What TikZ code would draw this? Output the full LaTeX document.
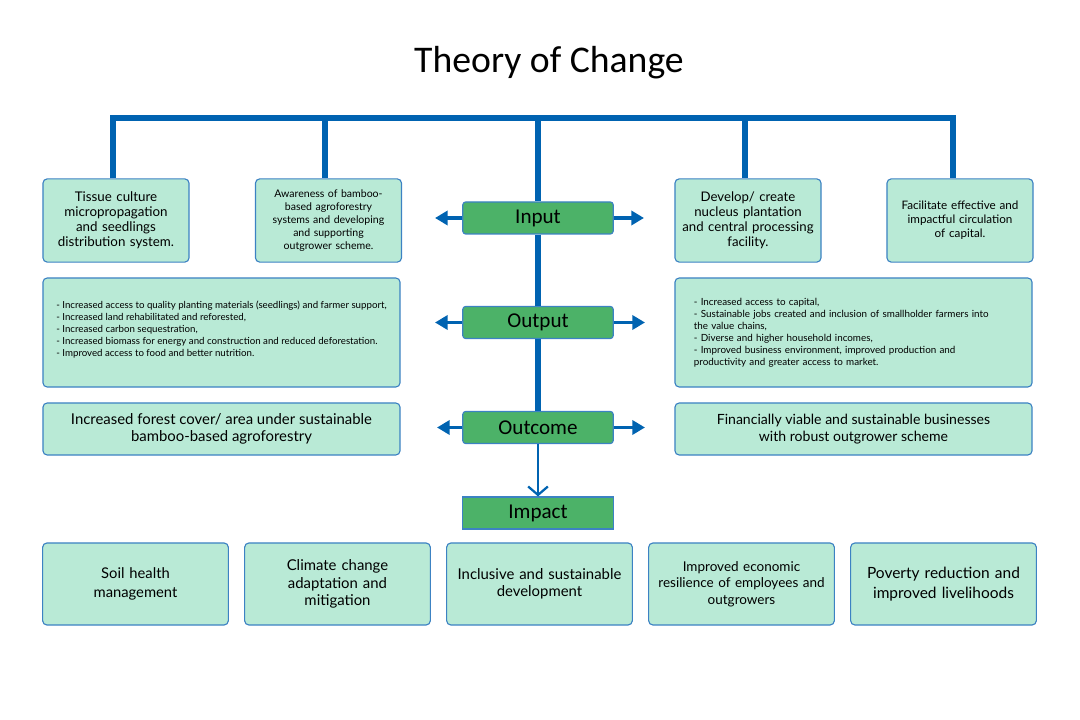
\documentclass[tikz,border=0pt]{standalone}
\usepackage{fontspec}
\setmainfont{Lato}
\newfontfamily\labfont{Carlito}
\usetikzlibrary{arrows.meta}
\definecolor{tocblue}{RGB}{0,99,177}
\definecolor{tocmint}{RGB}{185,234,214}
\definecolor{tocgreen}{RGB}{76,178,104}
\definecolor{tocline}{RGB}{60,130,195}
\tikzset{
  box/.style={draw=tocline,line width=0.8pt,fill=tocmint,rounded corners=3pt,align=center,inner sep=2pt},
  topbox/.style={box,minimum width=3.65cm,minimum height=2.08cm,text width=3.5cm},
  widebox/.style={box,minimum width=8.925cm},
  lowbox/.style={box,minimum width=4.625cm,minimum height=2.05cm,text width=4.5cm},
  stage/.style={draw=tocline,line width=0.8pt,fill=tocgreen,rounded corners=2pt,minimum width=3.76cm,minimum height=0.8cm,font=\labfont\fontsize{15}{17}\selectfont},
  trunk/.style={tocblue,line width=4.2pt},
  side/.style={tocblue,line width=2.8pt,-{Triangle[length=9pt,width=10pt]}},
}
\begin{document}
\begin{tikzpicture}[x=0.025cm,y=-0.025cm]
\useasboundingbox (0,0) rectangle (1080,720);
\node[font=\labfont\fontsize{26.8}{30}\selectfont] (title) at (549,63) {Theory of Change};

% input row
\node[topbox,font=\fontsize{9.5}{10.7}\selectfont] (inA) at (116,220.5) {Tissue culture\\micropropagation\\and seedlings\\distribution system.};
\node[topbox,font=\fontsize{7.5}{9.2}\selectfont] (inB) at (328.5,220.5) {Awareness of bamboo-\\based agroforestry\\systems and developing\\and supporting\\outgrower scheme.};
\node[topbox,font=\fontsize{9.4}{10.7}\selectfont] (inC) at (748,220.5) {Develop/ create\\nucleus plantation\\and central processing\\facility.};
\node[topbox,font=\fontsize{8.3}{10}\selectfont] (inD) at (960,220.5) {Facilitate effective and\\impactful circulation\\of capital.};
\node[stage] (inp) at (538,218) {Input};

% output row
\node[widebox,minimum height=2.725cm,align=left,font=\fontsize{6.9}{8.5}\selectfont] (outL) at (221.5,332.5) {%
- Increased access to quality planting materials (seedlings) and farmer support,\\
- Increased land rehabilitated and reforested,\\
- Increased carbon sequestration,\\
- Increased biomass for energy and construction and reduced deforestation.\\
- Improved access to food and better nutrition.\\[-3pt]};
\node[widebox,minimum height=2.725cm,text width=7.98cm,align=left,font=\fontsize{7}{8.5}\selectfont] (outR) at (853.5,332.5) {%
- Increased access to capital,\\
- Sustainable jobs created and inclusion of smallholder farmers into\\
the value chains,\\
- Diverse and higher household incomes,\\
- Improved business environment, improved production and\\
productivity and greater access to market.\\[8pt]};
\node[stage] (outp) at (538,322.5) {Output};

% outcome row
\node[widebox,minimum height=1.3cm,font=\fontsize{10.6}{12.2}\selectfont] (ocL) at (221.5,429) {Increased forest cover/ area under sustainable\\bamboo-based agroforestry};
\node[widebox,minimum height=1.3cm,font=\fontsize{10}{12}\selectfont] (ocR) at (853.5,429) {Financially viable and sustainable businesses\\with robust outgrower scheme};
\node[stage] (outc) at (538,427.5) {Outcome};

% impact
\node[stage,rounded corners=0pt] (imp) at (538,513) {Impact};
\node[lowbox,font=\fontsize{10.5}{13.5}\selectfont] (imA) at (135.5,584) {Soil health\\management};
\node[lowbox,font=\fontsize{10.6}{12.2}\selectfont] (imB) at (337.5,584) {Climate change\\adaptation and\\mitigation};
\node[lowbox,font=\fontsize{10.6}{12.2}\selectfont] (imC) at (539.5,584) {Inclusive and sustainable\\development};
\node[lowbox,font=\fontsize{9.6}{11.8}\selectfont] (imD) at (741.5,584) {Improved economic\\resilience of employees and\\outgrowers};
\node[lowbox,font=\fontsize{11}{13.8}\selectfont] (imE) at (943.5,584) {Poverty reduction and\\improved livelihoods};

% top bar and drops
\coordinate (b1) at (113,118); \coordinate (b2) at (325,118); \coordinate (b3) at (538,118);
\coordinate (b4) at (745,118); \coordinate (b5) at (953,118);
\draw[trunk] (b1 |- inA.north) -- (b1) -- (b5) -- (b5 |- inD.north);
\draw[trunk] (b2) -- (b2 |- inB.north);
\draw[trunk] (b4) -- (b4 |- inC.north);
\draw[trunk] (b3) -- (inp.north);
\draw[trunk] (inp.south) -- (outp.north);
\draw[trunk] (outp.south) -- (outc.north);
\draw[tocblue,line width=1.6pt,-{Straight Barb[length=6pt,width=14pt]}] (outc.south) -- (imp.north);

% side arrows
\coordinate (inpL) at (435,218); \coordinate (inpR) at (644,218);
\coordinate (outpL) at (435,322.5); \coordinate (outpR) at (645,322.5);
\coordinate (outcL) at (437,427.5); \coordinate (outcR) at (645,427.5);
\draw[side] (inp.west) -- (inpL); \draw[side] (inp.east) -- (inpR);
\draw[side] (outp.west) -- (outpL); \draw[side] (outp.east) -- (outpR);
\draw[side] (outc.west) -- (outcL); \draw[side] (outc.east) -- (outcR);
\end{tikzpicture}
\end{document}
